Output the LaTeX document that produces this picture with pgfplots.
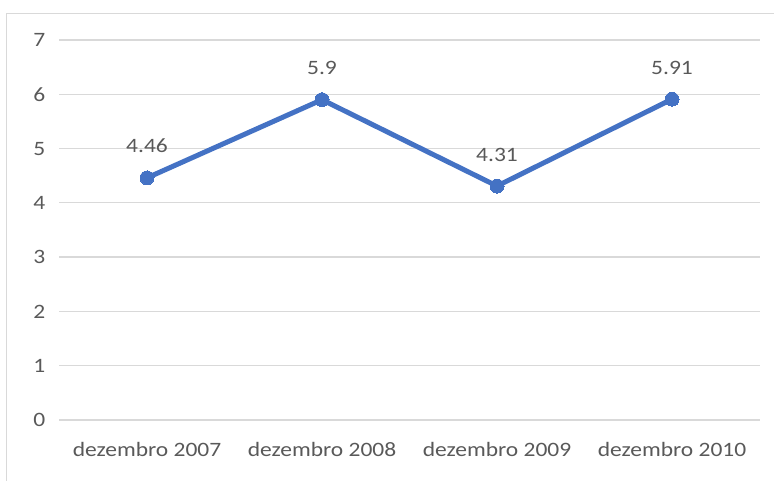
\documentclass[border=0pt]{standalone}
\usepackage{fontspec}
\setmainfont{Carlito}[FakeStretch=1.15]
\usepackage{pgfplots}
\pgfplotsset{compat=1.18}
\definecolor{SerieA}{HTML}{4472C4}
\definecolor{Rotulo}{HTML}{595959}
\definecolor{Grade}{HTML}{D9D9D9}

\begin{document}
\begin{tikzpicture}[x=1bp,y=1bp]
% page = 774 x 481, axis origin at (59.5, 61) from lower left
\path[use as bounding box] (-59.5,-61) rectangle (714.5,420);
\begin{axis}[
  at={(0,0)}, anchor=south west,
  scale only axis, width=700bp, height=380bp,
  xmin=-0.5, xmax=3.5, ymin=0, ymax=7,
  xtick={0,1,2,3},
  xticklabels={dezembro 2007,dezembro 2008,dezembro 2009,dezembro 2010},
  ytick={0,1,...,7},
  ymajorgrids, grid style={Grade, line width=1.3bp},
  axis line style={draw=none},
  major tick length=0pt,
  /pgf/number format/assume math mode=true,
  tick label style={font=\fontsize{20.5}{24}\selectfont, text=Rotulo, inner sep=0pt},
  yticklabel style={anchor=east, xshift=-14bp},
  xticklabel style={anchor=base, yshift=-37bp},
  nodes near coords,
  point meta=explicit symbolic,
  nodes near coords style={font=\fontsize{20.5}{24}\selectfont, text=Rotulo,
    anchor=base, inner sep=0pt, yshift=25bp},
  clip=false,
]
\addplot[SerieA, line width=5bp, mark=*, mark size=7bp,
  mark options={fill=SerieA, draw=SerieA, line width=0pt}]
  coordinates {(0,4.46)[4.46] (1,5.9)[5.9] (2,4.31)[4.31] (3,5.91)[5.91]};
\end{axis}
\draw[Grade, line width=1bp] (-52.5,-61) -- (-52.5,406) -- (714.5,406);
\end{tikzpicture}
\end{document}
